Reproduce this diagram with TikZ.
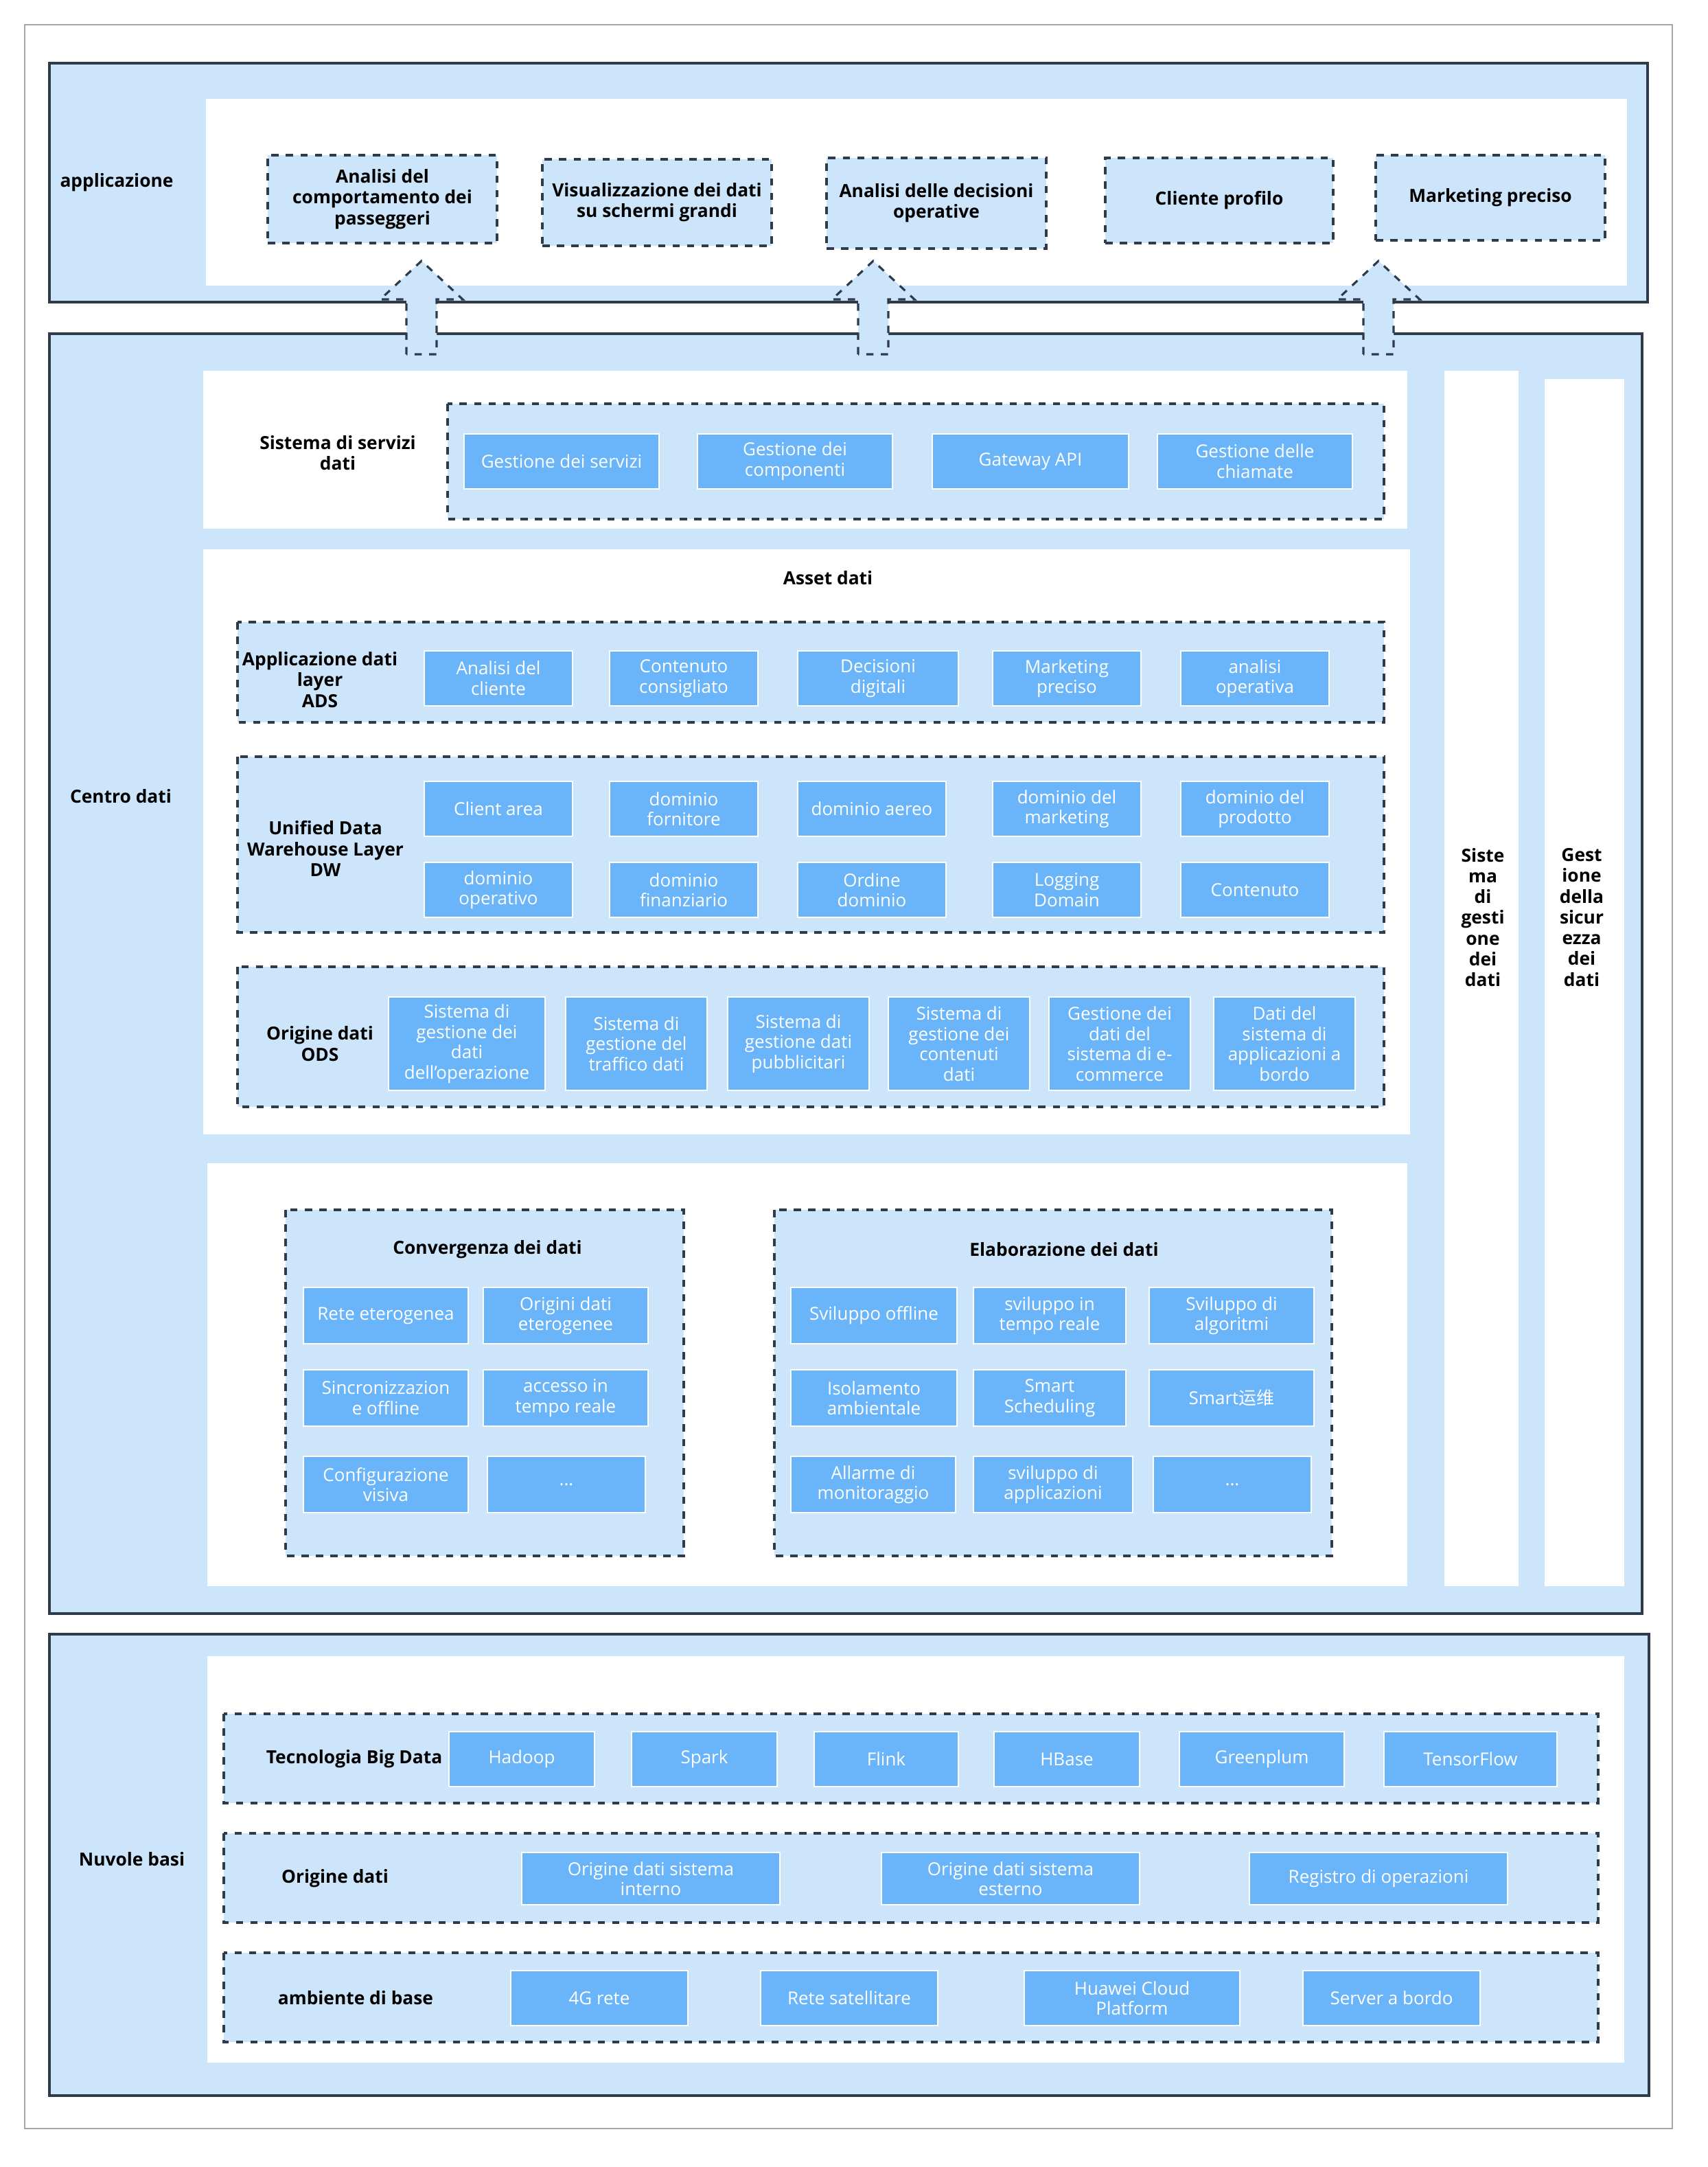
\documentclass[tikz,border=0pt]{standalone}
\usepackage{fontspec}
\setmainfont{Open Sans}
\newfontfamily\cjk{Noto Sans CJK SC}
\usetikzlibrary{positioning}
\definecolor{bandblue}{HTML}{CCE5FB}
\definecolor{boxblue}{HTML}{6AB4FA}
\definecolor{edge}{HTML}{2F3B4A}

\begin{document}
\begin{tikzpicture}[x=0.02cm, y=-0.02cm,
        band/.style={draw=edge, fill=bandblue, line width=0.9pt},
        panel/.style={fill=white, draw=none},
        group/.style={draw=edge, dashed, fill=bandblue, line width=0.9pt},
        title/.style={font=\fontsize{7.5}{8.6}\selectfont\bfseries, align=center, text=black},
        bbox/.style={fill=boxblue, draw=white, line width=0.6pt, text=white, align=center,
            font=\fontsize{7.4}{8.4}\selectfont, inner sep=1pt},
        app/.style={draw=edge, dashed, fill=bandblue, line width=0.9pt, align=center,
            font=\fontsize{7.5}{8.6}\selectfont\bfseries, inner sep=1pt},
        uparrow/.style={draw=edge, dashed, fill=bandblue, line width=0.9pt}
    ]
        \useasboundingbox (0,0) rectangle (1243.5,1578);
        \draw[gray!70, line width=0.8pt] (18,18) rectangle (1218,1550);

        % Bands
        \draw[band] (36,46) rectangle (1200,220);
        \draw[band] (36,243) rectangle (1196,1175);
        \draw[band] (36,1190) rectangle (1201,1526);
        \node[title] (lapp) at (85,133) {applicazione};
        \node[title] (lcentro) at (88,580) {Centro dati};
        \node[title] (lnuvole) at (96,1354) {Nuvole basi};

        % Application layer
        \fill[panel] (150,72) rectangle (1185,208);
        \foreach \a/\b/\c/\d/\t [count=\i] in {
            195/113/362/177/{Analisi del\\comportamento dei\\passeggeri},
            395/116/562/179/{Visualizzazione dei dati\\su schermi grandi},
            602/115/762/181/{Analisi delle decisioni\\operative},
            805/115/971/177/{Cliente profilo},
            1002/113/1169/175/{Marketing preciso}}
            \node[app, minimum width=(\c-\a)*0.02cm, minimum height=(\d-\b)*0.02cm]
                (app\i) at ({(\a+\c)/2},{(\b+\d)/2}) {\t};

        % Arrows up
        \foreach \x in {307,636,1004}
            \draw[uparrow] (\x-11,258) -- (\x-11,218) -- (\x-30,218) -- (\x,190)
                -- (\x+30,218) -- (\x+11,218) -- (\x+11,258) -- cycle;

        % Data services
        \fill[panel] (148,270) rectangle (1025,385);
        \node[title] (lserv) at (246,330) {Sistema di servizi\\dati};
        \draw[group] (326,294) rectangle (1008,378);
        \foreach \a/\b/\t [count=\i] in {338/480/{Gestione dei servizi},
            508/650/{Gestione dei\\componenti}, 679/822/{Gateway API},
            843/985/{Gestione delle\\chiamate}}
            \node[bbox, minimum width=(\b-\a)*0.02cm, minimum height=0.8cm]
                (serv\i) at ({(\a+\b)/2},336) {\t};

        % Data assets
        \fill[panel] (148,400) rectangle (1027,826);
        \node[title] (lasset) at (603,421) {Asset dati};
        \draw[group] (173,453) rectangle (1008,526);
        \node[title] (lads) at (233,495) {Applicazione dati\\layer\\ADS};
        \foreach \a/\b/\t [count=\i] in {309/417/{Analisi del\\cliente},
            444/552/{Contenuto\\consigliato}, 581/698/{Decisioni\\digitali},
            723/831/{Marketing\\preciso}, 860/968/{analisi\\operativa}}
            \node[bbox, minimum width=(\b-\a)*0.02cm, minimum height=0.8cm]
                (ads\i) at ({(\a+\b)/2},494) {\t};

        \draw[group] (173,551) rectangle (1008,679);
        \node[title] (ldw) at (237,618) {Unified Data\\Warehouse Layer\\DW};
        \foreach \a/\b/\t [count=\i] in {309/417/{Client area},
            444/552/{dominio\\fornitore}, 581/689/{dominio aereo},
            723/831/{dominio del\\marketing}, 860/968/{dominio del\\prodotto}}
            \node[bbox, minimum width=(\b-\a)*0.02cm, minimum height=0.8cm]
                (dwa\i) at ({(\a+\b)/2},589) {\t};
        \foreach \a/\b/\t [count=\i] in {309/417/{dominio\\operativo},
            444/552/{dominio\\finanziario}, 581/689/{Ordine\\dominio},
            723/831/{Logging\\Domain}, 860/968/{Contenuto}}
            \node[bbox, minimum width=(\b-\a)*0.02cm, minimum height=0.8cm]
                (dwb\i) at ({(\a+\b)/2},648) {\t};

        \draw[group] (173,704) rectangle (1008,806);
        \node[title] (lods) at (233,760) {Origine dati\\ODS};
        \foreach \a/\b/\t [count=\i] in {283/397/{Sistema di\\gestione dei\\dati\\dell'operazione},
            412/515/{Sistema di\\gestione del\\traffico dati}, 530/633/{Sistema di\\gestione dati\\pubblicitari},
            647/750/{Sistema di\\gestione dei\\contenuti\\dati}, 764/867/{Gestione dei\\dati del\\sistema di e-\\commerce},
            884/987/{Dati del\\sistema di\\applicazioni a\\bordo}}
            \node[bbox, minimum width=(\b-\a)*0.02cm, minimum height=1.36cm]
                (ods\i) at ({(\a+\b)/2},760) {\t};

        % Convergence and processing
        \fill[panel] (151,847) rectangle (1025,1155);
        \draw[group] (208,881) rectangle (498,1133);
        \node[title] (lconv) at (355,910) {Convergenza dei dati};
        \foreach \a/\b/\y/\t [count=\i] in {221/341/958/{Rete eterogenea},
            352/472/958/{Origini dati\\eterogenee}, 221/341/1018/{Sincronizzazion\\e offline},
            352/472/1018/{accesso in\\tempo reale}, 221/341/1081/{Configurazione\\visiva},
            355/470/1081/{...}}
            \node[bbox, minimum width=(\b-\a)*0.02cm, minimum height=0.82cm]
                (conv\i) at ({(\a+\b)/2},\y) {\t};
        \draw[group] (564,881) rectangle (970,1133);
        \node[title] (lelab) at (775,910) {Elaborazione dei dati};
        \foreach \a/\b/\y/\t [count=\i] in {576/697/958/{Sviluppo offline},
            709/820/958/{sviluppo in\\tempo reale}, 837/957/958/{Sviluppo di\\algoritmi},
            576/697/1018/{Isolamento\\ambientale}, 709/820/1018/{Smart\\Scheduling},
            837/957/1018/{Smart{\cjk 运维}}, 576/696/1081/{Allarme di\\monitoraggio},
            709/825/1081/{sviluppo di\\applicazioni}, 840/955/1081/{...}}
            \node[bbox, minimum width=(\b-\a)*0.02cm, minimum height=0.82cm]
                (elab\i) at ({(\a+\b)/2},\y) {\t};

        % Side columns
        \fill[panel] (1052,270) rectangle (1106,1155);
        \fill[panel] (1125,276) rectangle (1183,1155);
        \node[title] (lgest) at (1080,668) {Siste\\ma\\di\\gesti\\one\\dei\\dati};
        \node[title] (lsic) at (1152,668) {Gest\\ione\\della\\sicur\\ezza\\dei\\dati};

        % Cloud base
        \fill[panel] (151,1206) rectangle (1183,1502);
        \draw[group] (163,1248) rectangle (1164,1313);
        \node[title] (lbig) at (258,1281) {Tecnologia Big Data};
        \foreach \a/\b/\t [count=\i] in {327/433/Hadoop, 460/566/Spark, 593/698/Flink,
            724/830/HBase, 859/979/Greenplum, 1008/1134/TensorFlow}
            \node[bbox, minimum width=(\b-\a)*0.02cm, minimum height=0.8cm]
                (big\i) at ({(\a+\b)/2},1281) {\t};
        \draw[group] (163,1335) rectangle (1164,1400);
        \node[title] (lorig) at (244,1368) {Origine dati};
        \foreach \a/\b/\t [count=\i] in {380/568/{Origine dati sistema\\interno},
            642/830/{Origine dati sistema\\esterno}, 910/1098/{Registro di operazioni}}
            \node[bbox, minimum width=(\b-\a)*0.02cm, minimum height=0.76cm]
                (orig\i) at ({(\a+\b)/2},1368) {\t};
        \draw[group] (163,1422) rectangle (1164,1487);
        \node[title] (lamb) at (259,1455) {ambiente di base};
        \foreach \a/\b/\t [count=\i] in {372/501/{4G rete}, 554/683/{Rete satellitare},
            746/903/{Huawei Cloud\\Platform}, 949/1078/{Server a bordo}}
            \node[bbox, minimum width=(\b-\a)*0.02cm, minimum height=0.8cm]
                (amb\i) at ({(\a+\b)/2},1455) {\t};
\end{tikzpicture}
\end{document}
